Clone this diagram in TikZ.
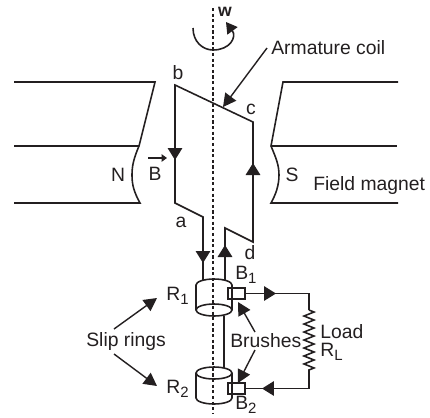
\documentclass[tikz,border=0pt]{standalone}
\usepackage{fontspec}
\setmainfont{Liberation Sans}
\usetikzlibrary{arrows.meta,decorations.pathmorphing}
\definecolor{ink}{HTML}{231F20}
\newcommand{\lowidx}[1]{\raisebox{-0.45ex}{\fontsize{8.5}{10}\selectfont #1}}
\tikzset{
  wire/.style={ink, line width=0.9pt},
  tipped/.style={wire, -{Triangle[length=0.24cm,width=0.29cm]}},
  pointer/.style={ink, line width=0.8pt, -{Triangle[length=0.26cm,width=0.27cm]}},
  lbl/.style={ink, inner sep=0pt, font=\fontsize{11}{13}\selectfont},
  brushbox/.style={draw=ink, line width=0.9pt, minimum width=0.34cm, minimum height=0.22cm, inner sep=0pt},
  shaftline/.style={ink, line width=1pt, dash pattern=on 1.8pt off 1.4pt}
}
\begin{document}
\begin{tikzpicture}[x=0.02cm,y=-0.02cm]
  \useasboundingbox (0,0) rectangle (430,417);
  % axis
  \coordinate (axistop) at (213,8);
  \coordinate (axisbot) at (213,414);
  \draw[shaftline] (axistop) -- (axisbot);
  % magnets
  \draw[wire] (14,82) -- (155,82) -- (139,146) .. controls (134,158) and (132,165) .. (132,175) .. controls (132,185) and (134,192) .. (140,203) -- (14,203);
  \draw[wire] (14,146) -- (139,146);
  \draw[wire] (398,82) -- (283,82) -- (271,146) .. controls (276,158) and (279,165) .. (279,175) .. controls (279,185) and (276,194) .. (271,203) -- (398,203);
  \draw[wire] (271,146) -- (397,146);
  % coil
  \coordinate (b) at (175,85);
  \coordinate (c) at (253,122);
  \coordinate (a) at (175,203);
  \coordinate (d) at (253,242);
  \coordinate (ain) at (203,217);
  \coordinate (dout) at (225,228);
  \coordinate (aend) at (203,280);
  \coordinate (dend) at (225,280);
  \draw[wire] (aend) -- (ain) -- (a) -- (b) -- (c) -- (d) -- (dout) -- (dend);
  \draw[tipped] (b) -- (175,160);
  \draw[tipped] (d) -- (253,163);
  \draw[tipped] (ain) -- (203,263);
  \draw[tipped] (dend) -- (225,245);
  % rings
  \draw[wire] (196,310) -- (196,285) arc[start angle=180,end angle=360,x radius=18,y radius=6] -- (232,310);
  \draw[wire] (214,310) ellipse[x radius=18,y radius=6];
  \draw[wire] (214,373) ellipse[x radius=18,y radius=6];
  \draw[wire] (196,373) -- (196,398) arc[start angle=180,end angle=0,x radius=18,y radius=6] -- (232,373);
  \draw[wire] (224,316) -- (224,368);
  % brushes and load
  \node[brushbox] (brushA) at (236.5,293.5) {};
  \node[brushbox] (brushB) at (236.5,388.5) {};
  \coordinate (loadtop) at (309,293.5);
  \coordinate (loadbot) at (309,388.5);
  \draw[wire] (brushA.east) -- (loadtop) -- (309,310);
  \draw[wire, decorate, decoration={zigzag,segment length=0.16cm,amplitude=0.1cm}] (309,310) -- (309,372);
  \draw[wire] (309,372) -- (loadbot) -- (brushB.east);
  \draw[tipped] (brushA.east) -- (276,293.5);
  \draw[tipped] (loadbot) -- (262,388.5);
  % rotation
  \draw[wire, -{Triangle[length=0.22cm,width=0.25cm]}] (193,28) .. controls (193,42) and (203,50) .. (213,50) .. controls (230,50) and (237,37) .. (226,22);
  % labels
  \node[lbl, font=\bfseries\fontsize{10}{12}\selectfont] (w) at (225,12) {w};
  \node[lbl, anchor=west] (coillbl) at (271,48) {Armature coil};
  \node[lbl, anchor=west] (fieldlbl) at (313,185) {Field magnet};
  \node[lbl] (N) at (118,175) {N};
  \node[lbl] (S) at (292,175) {S};
  \node[lbl] (Blbl) at (155,174) {B};
  \node[lbl] (lblb) at (178,73) {b};
  \node[lbl] (lblc) at (251,109) {c};
  \node[lbl] (lbla) at (181,222) {a};
  \node[lbl] (lbld) at (250,253) {d};
  \node[lbl, anchor=west] (B1) at (235,275) {B\lowidx{1}};
  \node[lbl, anchor=west] (B2) at (235,405) {B\lowidx{2}};
  \node[lbl, anchor=west] (R1) at (166,296) {R\lowidx{1}};
  \node[lbl, anchor=west] (R2) at (166,389) {R\lowidx{2}};
  \node[lbl, anchor=west] (slip) at (86,341) {Slip rings};
  \node[lbl, anchor=west] (brushes) at (230,341) {Brushes};
  \node[lbl, anchor=west] (load) at (320,332) {Load};
  \node[lbl, anchor=west] (RL) at (320,352) {R\lowidx{L}};
  % pointers
  \draw[ink, line width=0.9pt, -{Triangle[length=0.11cm,width=0.15cm]}] (148,158) -- (167,158);
  \draw[pointer] (coillbl.west) ++(-4,0) -- (223,107);
  \draw[pointer] (114,329) -- (157,298);
  \draw[pointer] (114,354) -- (157,386);
  \draw[pointer] (255,332) -- (238,302);
  \draw[pointer] (255,350) -- (238,383);
\end{tikzpicture}
\end{document}
